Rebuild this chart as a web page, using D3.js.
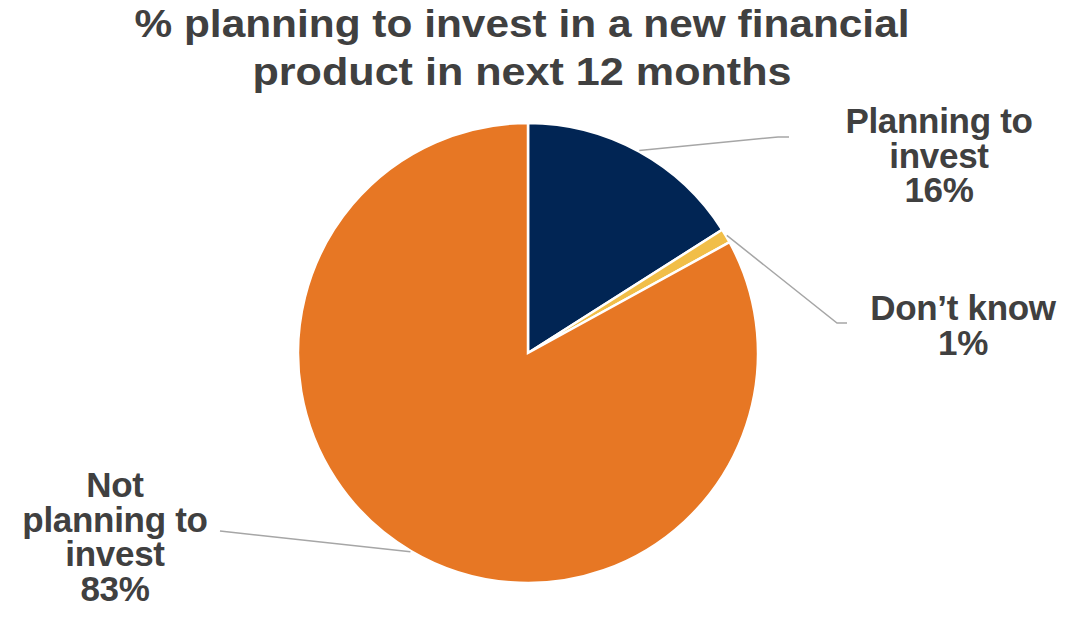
<!DOCTYPE html>
<html>
<head>
<meta charset="utf-8">
<script src="https://cdn.jsdelivr.net/npm/d3@7"></script>
<style>
  body { margin: 0; background: #fff; }
  svg text { font-family: "Liberation Sans", Arial, sans-serif; font-weight: bold; fill: #404040; }
</style>
</head>
<body>
<div id="chart"></div>
<script>
// data
var categories = ["Planning to invest", "Don\u2019t know", "Not planning to invest"];
var values = [16, 1, 83];
var labelLines = [["Planning to", "invest", "16%"], ["Don\u2019t know", "1%"], ["Not", "planning to", "invest", "83%"]];
var colors = ["#012554", "#F1BE48", "#E77724"];
var titleLines = ["% planning to invest in a new financial", "product in next 12 months"];

var width = 1071, height = 629;
var cx = 528, cy = 353, radius = 230;

// where each label sits, and where its leader line bends / ends
var labelPos = [
    {x: 939, y: 133, elbow: [778, 137], end: [789, 137]},
    {x: 963, y: 320, elbow: [837, 323], end: [847, 323]},
    {x: 115, y: 497, elbow: [220, 531], end: [220, 531]}
];

var svg = d3.select("#chart")
.append("svg")
.attr("width", width)
.attr("height", height);

// title
svg.selectAll(".title")
.data(titleLines)
.enter().append("text")
.attr("class", "title")
.attr("x", 522)
.attr("y", function(d, i) { return 37 + i * 48; })
.attr("text-anchor", "middle")
.attr("font-size", "38px")
.attr("textLength", function(d, i) { return i == 0 ? 775 : 539; })
.attr("lengthAdjust", "spacingAndGlyphs")
.text(function(d) { return d; });

var pie = d3.pie().sort(null).value(function(d) { return d; });
var arcs = pie(values);

var arc = d3.arc().innerRadius(0).outerRadius(radius);
var edgeArc = d3.arc().innerRadius(radius + 1).outerRadius(radius + 1);

var g = svg.append("g")
.attr("transform", "translate(" + cx + "," + cy + ")");

g.selectAll(".slice")
.data(arcs)
.enter().append("path")
.attr("class", "slice")
.attr("d", arc)
.style("fill", function(d, i) { return colors[i]; })
.style("stroke", "#fff")
.style("stroke-width", 2.5)
.style("stroke-linejoin", "miter");

// leader lines from the edge of each slice to its label
svg.selectAll(".leader")
.data(arcs)
.enter().append("polyline")
.attr("class", "leader")
.attr("points", function(d, i) {
    var c = edgeArc.centroid(d);
    var p = labelPos[i];
    return [[cx + c[0], cy + c[1]], p.elbow, p.end].map(function(q) { return q.join(","); }).join(" ");
})
.style("fill", "none")
.style("stroke", "#A6A6A6")
.style("stroke-width", 1.5);

// labels
var labels = svg.selectAll(".label")
.data(arcs)
.enter().append("text")
.attr("class", "label")
.attr("text-anchor", "middle")
.attr("font-size", "35px")
.attr("letter-spacing", "-0.3px");

labels.each(function(d, i) {
    var p = labelPos[i];
    d3.select(this).selectAll("tspan")
    .data(labelLines[i])
    .enter().append("tspan")
    .attr("x", p.x)
    .attr("y", function(t, j) { return p.y + j * 34.5; })
    .text(function(t) { return t; });
});
</script>
</body>
</html>
